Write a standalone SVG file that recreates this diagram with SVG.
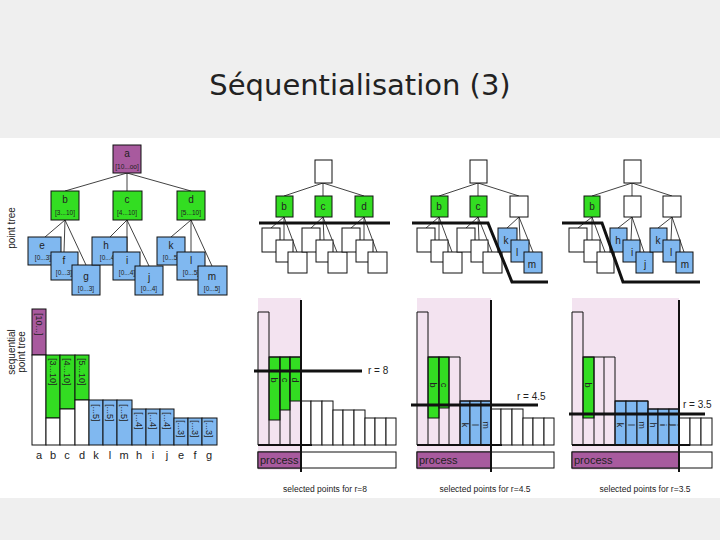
<svg xmlns="http://www.w3.org/2000/svg" width="720" height="540" viewBox="0 0 720 540">
<style>
text{font-family:"Liberation Sans",Arial,sans-serif;fill:#222}
.t{font-size:10px;text-anchor:middle}
.s{font-size:6.5px;text-anchor:middle}
.pu{fill:#a85a9e;stroke:#111;stroke-width:1}
.gr{fill:#33dd22;stroke:#111;stroke-width:1}
.bl{fill:#80b8f0;stroke:#111;stroke-width:1}
.wh{fill:#fff;stroke:#111;stroke-width:1}
.no{fill:none;stroke:#111;stroke-width:1}
.ln{stroke:#111;stroke-width:0.8;fill:none}
.th{stroke:#111;stroke-width:3;fill:none}
.pk{fill:#f3e3f0}
.r{font-size:9px}
</style>
<rect width="720" height="540" fill="#efefef"/>
<rect x="0" y="138" width="720" height="360" fill="#fff"/>
<text x="360" y="95" style="font-family:'DejaVu Sans',sans-serif;font-size:29px;text-anchor:middle">Séquentialisation (3)</text>

<!-- Left point tree -->
<g id="connectors">
<path class="ln" d="M127 173L65 191M127 173L127 191M127 173L191 191M65 220L45 237M65 220L64 252M65 220L86 265M127 220L110 237M127 220L127 252M127 220L149 266M191 220L171 237M191 220L191 252M191 220L212 266"/>
</g>
<text x="15" y="228" transform="rotate(-90 15 228)" style="font-size:10px;text-anchor:middle">point tree</text>
<g id="a"><rect class="pu" x="113" y="145" width="28" height="28"/><text class="t" x="127" y="157">a</text><text class="s" x="127" y="169">[10...oo]</text></g>
<g id="b"><rect class="gr" x="51" y="191" width="28" height="29"/><text class="t" x="65" y="203">b</text><text class="s" x="65" y="215">[3...10]</text></g>
<g id="c"><rect class="gr" x="113" y="191" width="29" height="29"/><text class="t" x="127" y="203">c</text><text class="s" x="127" y="215">[4...10]</text></g>
<g id="d"><rect class="gr" x="177" y="191" width="28" height="29"/><text class="t" x="191" y="203">d</text><text class="s" x="191" y="215">[5...10]</text></g>
<g id="e"><rect class="bl" x="28" y="237" width="33" height="28"/><text class="t" x="42" y="249">e</text><text class="s" x="43" y="260">[0...3]</text></g>
<g id="f"><rect class="bl" x="51" y="252" width="27" height="28"/><text class="t" x="64" y="264">f</text><text class="s" x="64" y="275">[0...3]</text></g>
<g id="g"><rect class="bl" x="72" y="265" width="28" height="30"/><text class="t" x="86" y="280">g</text><text class="s" x="86" y="291">[0...3]</text></g>
<g id="h"><rect class="bl" x="92" y="237" width="35" height="28"/><text class="t" x="106" y="249">h</text><text class="s" x="108" y="260">[0...4]</text></g>
<g id="i"><rect class="bl" x="113" y="252" width="27" height="28"/><text class="t" x="127" y="264">i</text><text class="s" x="127" y="275">[0...4]</text></g>
<g id="j"><rect class="bl" x="135" y="266" width="28" height="29"/><text class="t" x="149" y="281">j</text><text class="s" x="149" y="291">[0...4]</text></g>
<g id="k"><rect class="bl" x="157" y="237" width="28" height="28"/><text class="t" x="171" y="249">k</text><text class="s" x="171" y="260">[0...5]</text></g>
<g id="l"><rect class="bl" x="177" y="252" width="28" height="28"/><text class="t" x="191" y="264">l</text><text class="s" x="191" y="275">[0...5]</text></g>
<g id="m"><rect class="bl" x="198" y="266" width="29" height="29"/><text class="t" x="212" y="280">m</text><text class="s" x="212" y="291">[0...5]</text></g>

<!-- Left sequential bars -->
<g id="seq">
<text transform="rotate(-90 15 352)" x="15" y="352" style="font-size:10px;text-anchor:middle">sequential</text>
<text transform="rotate(-90 25 352)" x="25" y="352" style="font-size:10px;text-anchor:middle">point tree</text>
<rect class="pu" x="32" y="309" width="14" height="46"/><rect class="wh" x="32" y="355" width="14" height="90"/>
<rect class="gr" x="46" y="355" width="14" height="63"/><rect class="wh" x="46" y="418" width="14" height="27"/>
<rect class="gr" x="60" y="355" width="15" height="54"/><rect class="wh" x="60" y="409" width="15" height="36"/>
<rect class="gr" x="75" y="355" width="14" height="45"/><rect class="wh" x="75" y="400" width="14" height="45"/>
<rect class="bl" x="89" y="400" width="14" height="45"/><rect class="bl" x="103" y="400" width="14" height="45"/><rect class="bl" x="117" y="400" width="15" height="45"/>
<rect class="bl" x="132" y="409" width="14" height="36"/><rect class="bl" x="146" y="409" width="14" height="36"/><rect class="bl" x="160" y="409" width="14" height="36"/>
<rect class="bl" x="174" y="418" width="14" height="27"/><rect class="bl" x="188" y="418" width="14" height="27"/><rect class="bl" x="202" y="418" width="15" height="27"/>
<g style="font-size:9px">
<text transform="rotate(90 39 313)" x="39" y="313" dy="3">[10...]</text>
<text transform="rotate(90 53 358)" x="53" y="358" dy="3">[3...10]</text>
<text transform="rotate(90 67 358)" x="67" y="358" dy="3">[4...10]</text>
<text transform="rotate(90 82 358)" x="82" y="358" dy="3">[5...10]</text>
<text transform="rotate(90 96 404)" x="96" y="404" dy="3">[...5]</text>
<text transform="rotate(90 110 404)" x="110" y="404" dy="3">[...5]</text>
<text transform="rotate(90 124 404)" x="124" y="404" dy="3">[...5]</text>
<text transform="rotate(90 139 412)" x="139" y="412" dy="3">[...4]</text>
<text transform="rotate(90 153 412)" x="153" y="412" dy="3">[...4]</text>
<text transform="rotate(90 167 412)" x="167" y="412" dy="3">[...4]</text>
<text transform="rotate(90 181 420)" x="181" y="420" dy="3">[...3]</text>
<text transform="rotate(90 195 420)" x="195" y="420" dy="3">[...3]</text>
<text transform="rotate(90 209 420)" x="209" y="420" dy="3">[...3]</text>
</g>
<g class="t" style="font-size:11px">
<text class="t" x="39" y="459" style="font-size:11px">a</text><text class="t" x="53" y="459" style="font-size:11px">b</text><text class="t" x="67" y="459" style="font-size:11px">c</text><text class="t" x="82" y="459" style="font-size:11px">d</text><text class="t" x="96" y="459" style="font-size:11px">k</text><text class="t" x="110" y="459" style="font-size:11px">l</text><text class="t" x="124" y="459" style="font-size:11px">m</text><text class="t" x="139" y="459" style="font-size:11px">h</text><text class="t" x="153" y="459" style="font-size:11px">i</text><text class="t" x="167" y="459" style="font-size:11px">j</text><text class="t" x="181" y="459" style="font-size:11px">e</text><text class="t" x="195" y="459" style="font-size:11px">f</text><text class="t" x="209" y="459" style="font-size:11px">g</text>
</g>
</g>

<!-- Panel 1 tree -->
<g id="p1tree">
<path class="ln" d="M323 183L284 196M323 183L323 196M323 183L364 196M284 217L271 228M284 217L284 240M284 217L297 252M323 217L311 228M323 217L324 240M323 217L337 252M364 217L351 228M364 217L364 240M364 217L377 252"/>
<rect class="wh" x="315" y="160" width="17" height="23"/>
<rect class="gr" x="276" y="196" width="17" height="21"/><text class="t" x="284" y="210">b</text>
<rect class="gr" x="315" y="196" width="17" height="21"/><text class="t" x="323" y="210">c</text>
<rect class="gr" x="355" y="196" width="18" height="21"/><text class="t" x="364" y="210">d</text>
<rect class="wh" x="262" y="228" width="18" height="24"/><rect class="wh" x="276" y="240" width="17" height="22"/><rect class="wh" x="288" y="252" width="19" height="21"/>
<rect class="wh" x="302" y="228" width="18" height="24"/><rect class="wh" x="316" y="240" width="17" height="22"/><rect class="wh" x="328" y="252" width="19" height="21"/>
<rect class="wh" x="342" y="228" width="18" height="24"/><rect class="wh" x="356" y="240" width="17" height="22"/><rect class="wh" x="368" y="252" width="19" height="21"/>
<path class="th" d="M259 223H390"/>
</g>

<!-- Panel 1 bars -->
<g id="p1bars">
<rect class="pk" x="258" y="298" width="43" height="172"/>
<rect class="gr" x="269" y="357" width="11" height="63"/><rect class="gr" x="280" y="357" width="10" height="53"/><rect class="gr" x="290" y="357" width="11" height="44"/>
<path class="no" d="M258 445V312H269V445M269 357H301V445M280 357V445M290 357V445"/>
<rect class="wh" x="301" y="401" width="10" height="44"/><rect class="wh" x="311" y="401" width="11" height="44"/><rect class="wh" x="322" y="401" width="11" height="44"/>
<rect class="wh" x="333" y="410" width="10" height="35"/><rect class="wh" x="343" y="410" width="11" height="35"/><rect class="wh" x="354" y="410" width="11" height="35"/>
<rect class="wh" x="365" y="418" width="10" height="27"/><rect class="wh" x="375" y="418" width="11" height="27"/><rect class="wh" x="386" y="418" width="10" height="27"/>
<path d="M258 445H312" stroke="#111" stroke-width="2"/>
<text class="r" transform="rotate(90 274 380)" x="274" y="380" dy="3" text-anchor="middle">b</text>
<text class="r" transform="rotate(90 285 380)" x="285" y="380" dy="3" text-anchor="middle">c</text>
<text class="r" transform="rotate(90 295 380)" x="295" y="380" dy="3" text-anchor="middle">d</text>
<path class="th" d="M254 371H362"/><text x="368" y="374" style="font-size:10px">r = 8</text>
<rect class="wh" x="258" y="452" width="138" height="16"/><rect class="pu" x="258" y="452" width="43" height="16"/>
<text x="260" y="464" style="font-size:11px">process</text>
<path d="M301 300V472" stroke="#111" stroke-width="2"/>
<text class="t" x="325" y="492" style="font-size:8.5px">selected points for r=8</text>
</g>

<!-- Panel 2 tree -->
<g id="p2tree">
<path class="ln" d="M478 183L439 196M478 183L478 196M478 183L519 196M439 217L426 228M439 217L439 240M439 217L452 252M478 217L466 228M478 217L479 240M478 217L492 252M519 217L507 228M519 217L520 240M519 217L533 252"/>
<rect class="wh" x="470" y="160" width="17" height="23"/>
<rect class="gr" x="431" y="196" width="17" height="21"/><text class="t" x="439" y="210">b</text>
<rect class="gr" x="470" y="196" width="17" height="21"/><text class="t" x="478" y="210">c</text>
<rect class="wh" x="510" y="196" width="18" height="21"/>
<rect class="wh" x="417" y="228" width="18" height="24"/><rect class="wh" x="431" y="240" width="17" height="22"/><rect class="wh" x="443" y="252" width="19" height="21"/>
<rect class="wh" x="457" y="228" width="18" height="24"/><rect class="wh" x="471" y="240" width="17" height="22"/><rect class="wh" x="483" y="252" width="19" height="21"/>
<rect class="bl" x="498" y="228" width="19" height="24"/><text class="t" x="506" y="244">k</text>
<rect class="bl" x="511" y="240" width="18" height="22"/><text class="t" x="517" y="256">l</text>
<rect class="bl" x="524" y="252" width="18" height="21"/><text class="t" x="532" y="268">m</text>
<path class="th" d="M412 223H488L512 282H548"/>
</g>

<!-- Panel 2 bars -->
<g id="p2bars">
<rect class="pk" x="417" y="298" width="74" height="172"/>
<rect class="gr" x="428" y="357" width="11" height="61"/><rect class="gr" x="439" y="357" width="10" height="51"/>
<rect class="bl" x="460" y="401" width="10" height="44"/><rect class="bl" x="470" y="401" width="11" height="44"/><rect class="bl" x="481" y="401" width="10" height="44"/>
<path class="no" d="M417 445V312H428V445M428 357H460V445M439 357V445M449 357V445M460 401H491"/>
<rect class="wh" x="491" y="409" width="10" height="36"/><rect class="wh" x="501" y="409" width="11" height="36"/><rect class="wh" x="512" y="409" width="11" height="36"/>
<rect class="wh" x="523" y="418" width="10" height="27"/><rect class="wh" x="533" y="418" width="11" height="27"/><rect class="wh" x="544" y="418" width="10" height="27"/>
<path d="M417 445H502" stroke="#111" stroke-width="2"/>
<text class="r" transform="rotate(90 433 385)" x="433" y="385" dy="3" text-anchor="middle">b</text>
<text class="r" transform="rotate(90 444 385)" x="444" y="385" dy="3" text-anchor="middle">c</text>
<text class="r" transform="rotate(90 465 425)" x="465" y="425" dy="3" text-anchor="middle">k</text>
<text class="r" transform="rotate(90 475 425)" x="475" y="425" dy="3" text-anchor="middle">l</text>
<text class="r" transform="rotate(90 486 425)" x="486" y="425" dy="3" text-anchor="middle">m</text>
<path class="th" d="M411 405H538"/><text x="517" y="400" style="font-size:10px">r = 4.5</text>
<rect class="wh" x="417" y="452" width="137" height="16"/><rect class="pu" x="417" y="452" width="74" height="16"/>
<text x="419" y="464" style="font-size:11px">process</text>
<path d="M491 300V472" stroke="#111" stroke-width="2"/>
<text class="t" x="485" y="492" style="font-size:8.5px">selected points for r=4.5</text>
</g>

<!-- Panel 3 tree -->
<g id="p3tree">
<path class="ln" d="M632 183L592 196M632 183L632 196M632 183L672 196M592 217L578 228M592 217L592 240M592 217L605 252M632 217L618 228M632 217L631 240M632 217L644 252M672 217L658 228M672 217L671 240M672 217L684 252"/>
<rect class="wh" x="624" y="160" width="17" height="23"/>
<rect class="gr" x="584" y="196" width="16" height="21"/><text class="t" x="592" y="210">b</text>
<rect class="wh" x="624" y="196" width="17" height="21"/>
<rect class="wh" x="663" y="196" width="18" height="21"/>
<rect class="wh" x="569" y="228" width="18" height="24"/><rect class="wh" x="584" y="240" width="16" height="22"/><rect class="wh" x="597" y="252" width="17" height="21"/>
<rect class="bl" x="610" y="228" width="17" height="24"/><text class="t" x="618" y="244">h</text>
<rect class="bl" x="623" y="240" width="17" height="22"/><text class="t" x="632" y="256">i</text>
<rect class="bl" x="636" y="252" width="17" height="21"/><text class="t" x="645" y="268">j</text>
<rect class="bl" x="650" y="228" width="17" height="24"/><text class="t" x="658" y="244">k</text>
<rect class="bl" x="663" y="240" width="17" height="22"/><text class="t" x="671" y="256">l</text>
<rect class="bl" x="676" y="252" width="17" height="21"/><text class="t" x="685" y="268">m</text>
<path class="th" d="M562 223H602L623 282H700"/>
</g>

<!-- Panel 3 bars -->
<g id="p3bars">
<rect class="pk" x="572" y="298" width="107" height="172"/>
<rect class="gr" x="583" y="357" width="11" height="61"/>
<rect class="bl" x="615" y="401" width="11" height="44"/><rect class="bl" x="626" y="401" width="11" height="44"/><rect class="bl" x="637" y="401" width="11" height="44"/>
<rect class="bl" x="648" y="409" width="10" height="36"/><rect class="bl" x="658" y="409" width="11" height="36"/><rect class="bl" x="669" y="409" width="10" height="36"/>
<path class="no" d="M572 445V312H583V445M583 357H615V445M594 357V445M604 357V445M615 401H648V445M648 409H679"/>
<rect class="wh" x="679" y="418" width="11" height="27"/><rect class="wh" x="690" y="418" width="11" height="27"/><rect class="wh" x="701" y="418" width="11" height="27"/>
<path d="M572 445H690" stroke="#111" stroke-width="2"/>
<text class="r" transform="rotate(90 588 385)" x="588" y="385" dy="3" text-anchor="middle">b</text>
<text class="r" transform="rotate(90 620 425)" x="620" y="425" dy="3" text-anchor="middle">k</text>
<text class="r" transform="rotate(90 631 425)" x="631" y="425" dy="3" text-anchor="middle">l</text>
<text class="r" transform="rotate(90 642 425)" x="642" y="425" dy="3" text-anchor="middle">m</text>
<text class="r" transform="rotate(90 653 425)" x="653" y="425" dy="3" text-anchor="middle">h</text>
<text class="r" transform="rotate(90 663 425)" x="663" y="425" dy="3" text-anchor="middle">i</text>
<text class="r" transform="rotate(90 674 425)" x="674" y="425" dy="3" text-anchor="middle">j</text>
<path class="th" d="M569 414H705"/><text x="683" y="408" style="font-size:10px">r = 3.5</text>
<rect class="wh" x="572" y="452" width="140" height="16"/><rect class="pu" x="572" y="452" width="107" height="16"/>
<text x="574" y="464" style="font-size:11px">process</text>
<path d="M679 300V472" stroke="#111" stroke-width="2"/>
<text class="t" x="645" y="492" style="font-size:8.5px">selected points for r=3.5</text>
</g>
</svg>
